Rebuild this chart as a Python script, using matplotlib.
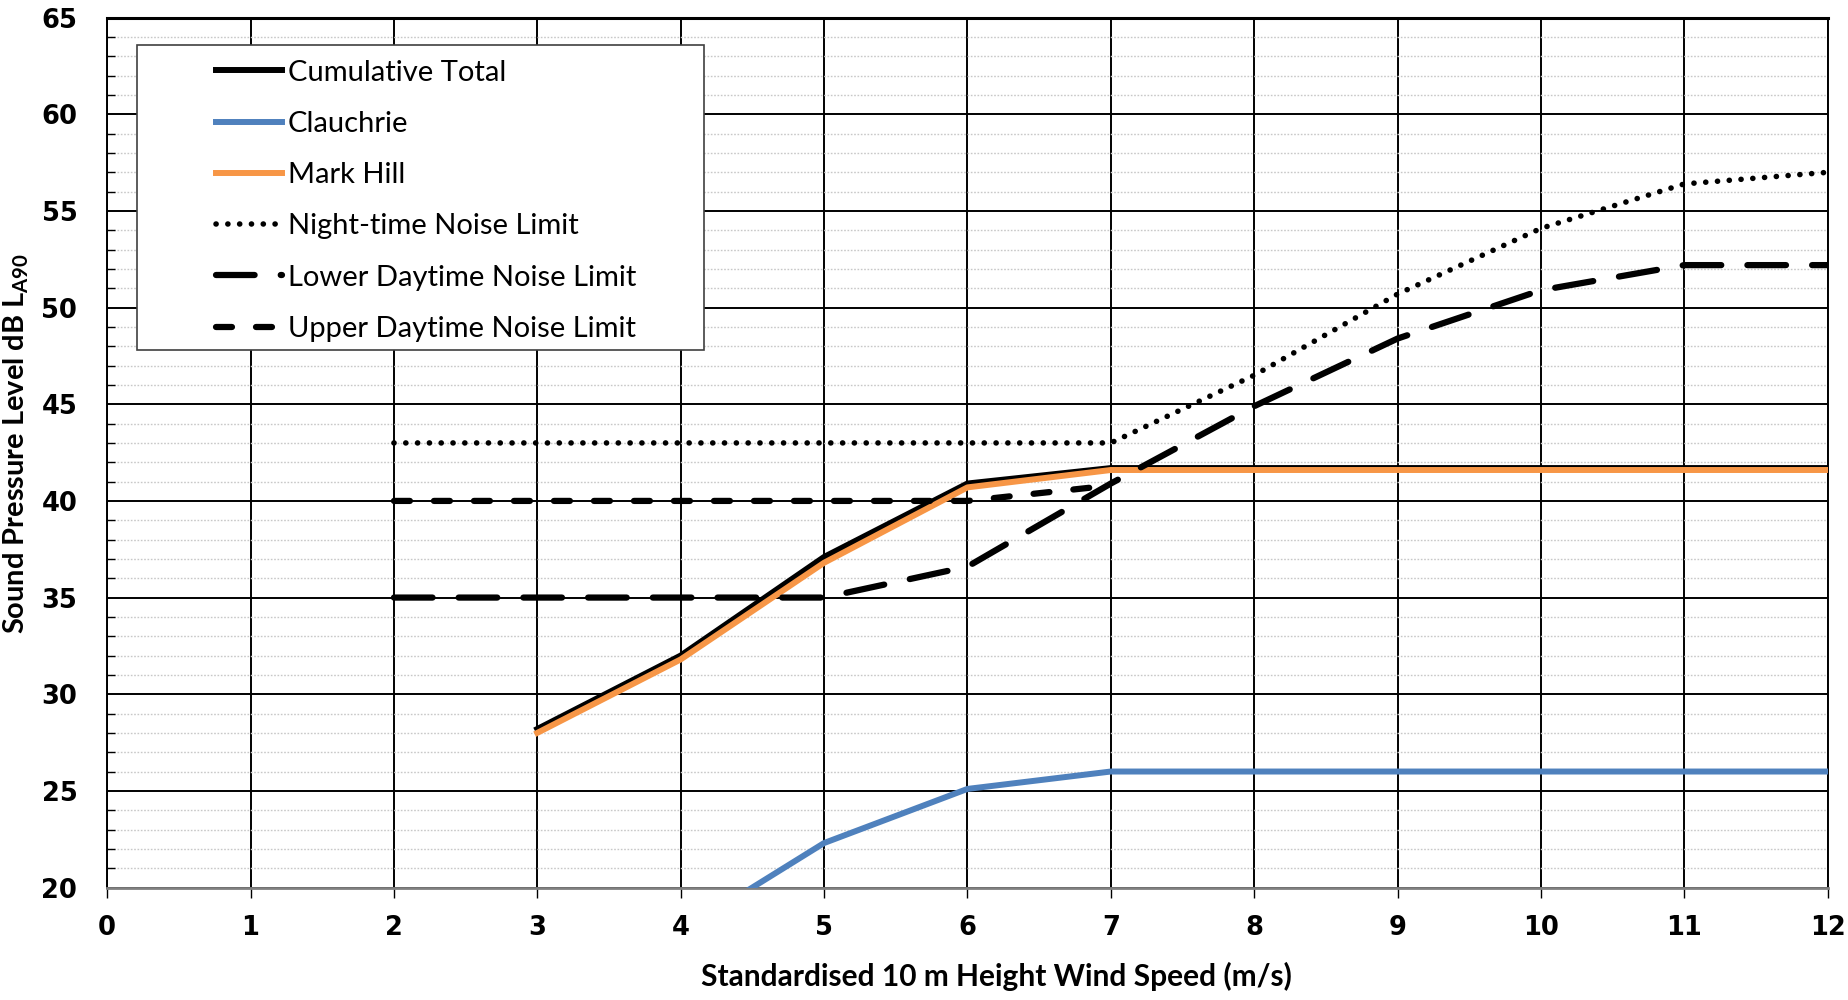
import matplotlib
matplotlib.use('Agg')
import matplotlib.pyplot as plt
import numpy as np
from matplotlib.patches import Rectangle
from matplotlib.ticker import MultipleLocator

plt.rcParams['lines.scale_dashes'] = False

# wind speed (m/s) and levels dB LA90
ws_total = [3, 4, 5, 6, 7, 8, 9, 10, 11, 12]
cumulative = [28.2, 32.0, 37.1, 40.9, 41.7, 41.7, 41.7, 41.7, 41.7, 41.7]
mark_hill = [28.0, 31.8, 36.8, 40.7, 41.6, 41.6, 41.6, 41.6, 41.6, 41.6]

ws_clau = [4, 5, 6, 7, 8, 9, 10, 11, 12]
clauchrie = [17.7, 22.3, 25.1, 26.0, 26.0, 26.0, 26.0, 26.0, 26.0]

ws_limit = [2, 3, 4, 5, 6, 7, 8, 9, 10, 11, 12]
night_limit = [43, 43, 43, 43, 43, 43, 46.5, 50.7, 54.1, 56.4, 57.0]
lower_day = [35, 35, 35, 35, 36.6, 40.9, 44.9, 48.4, 50.9, 52.2, 52.2]

ws_upper = [2, 3, 4, 5, 6, 7]
upper_day = [40, 40, 40, 40, 40, 40.8]

fig = plt.figure(figsize=(18.48, 10), dpi=100)
ax = fig.add_axes([0.058, 0.1125, 0.931, 0.8698])

ax.set_xlim(0, 12)
ax.set_ylim(20, 65)
ax.xaxis.set_major_locator(MultipleLocator(1))
ax.yaxis.set_major_locator(MultipleLocator(5))
ax.yaxis.set_minor_locator(MultipleLocator(1))

ax.grid(which='major', axis='both', color='black', lw=1.4, zorder=1)
ax.grid(which='minor', axis='y', color='#c8c8c8', lw=1.0, ls=(0, (1.2, 1.2)), zorder=0)
ax.set_axisbelow(True)

for s in ['left', 'top', 'right']:
    ax.spines[s].set_color('black')
    ax.spines[s].set_linewidth(1.4)
ax.spines['bottom'].set_color('#808080')
ax.spines['bottom'].set_linewidth(2)
ax.spines['top'].set_linewidth(2.2)

l1, = ax.plot(ws_total, cumulative, color='black', lw=4.3, label='Cumulative Total', zorder=3)
l2, = ax.plot(ws_clau, clauchrie, color='#4f81bd', lw=4.3, label='Clauchrie', zorder=3)
l3, = ax.plot(ws_total, mark_hill, color='#f79646', lw=4.3, label='Mark Hill', zorder=3.5)
l4, = ax.plot(ws_limit, night_limit, color='black', lw=4.0, dash_capstyle='round',
              ls=(0, (0.1, 8.4)), label='Night-time Noise Limit', zorder=5)
l5, = ax.plot(ws_limit, lower_day, color='black', lw=4.5, dash_capstyle='round',
              ls=(0, (27.8, 18.8)), label='Lower Daytime Noise Limit', zorder=5)
l6, = ax.plot(ws_upper, upper_day, color='black', lw=4.5, dash_capstyle='round',
              ls=(0, (11.5, 17.3)), label='Upper Daytime Noise Limit', zorder=5)

ax.tick_params(axis='x', which='major', direction='out', length=7, width=1, pad=13,
               labelsize=18.5, color='black')
ax.tick_params(axis='y', which='major', direction='out', length=0, pad=21.5, labelsize=18.5)
ax.tick_params(axis='y', which='minor', direction='in', length=6, width=1, color='black')
for lab in ax.get_xticklabels() + ax.get_yticklabels():
    lab.set_fontweight('bold')
    lab.set_family('DejaVu Sans')

ax.set_xlabel('Standardised 10 m Height Wind Speed (m/s)', family='Lato', fontweight='bold',
              fontsize=21.5)
ax.xaxis.set_label_coords(0.517, -0.086)
ax.set_ylabel('Sound Pressure Level dB L$_{\\mathregular{A90}}$', family='Lato',
              fontweight='bold', fontsize=20.9)
ax.yaxis.set_label_coords(-0.044, 0.51)

# legend frame
frame = Rectangle((137 / 1848, 1 - 350 / 1000), (704 - 137) / 1848, (350 - 45) / 1000,
                  transform=fig.transFigure, facecolor='white', edgecolor='#404040',
                  lw=1.2, zorder=6)
fig.patches.append(frame)
leg = fig.legend(handles=[l1, l2, l3, l4, l5, l6], loc='upper left',
                 bbox_to_anchor=(201 / 1848, 1 - 45 / 1000), frameon=False,
                 prop={'family': 'Lato', 'size': 21}, handlelength=2.28,
                 handletextpad=0.2, labelspacing=0.865, borderpad=0.0)
leg.set_zorder(7)

fig.savefig('out.png', dpi=100)
